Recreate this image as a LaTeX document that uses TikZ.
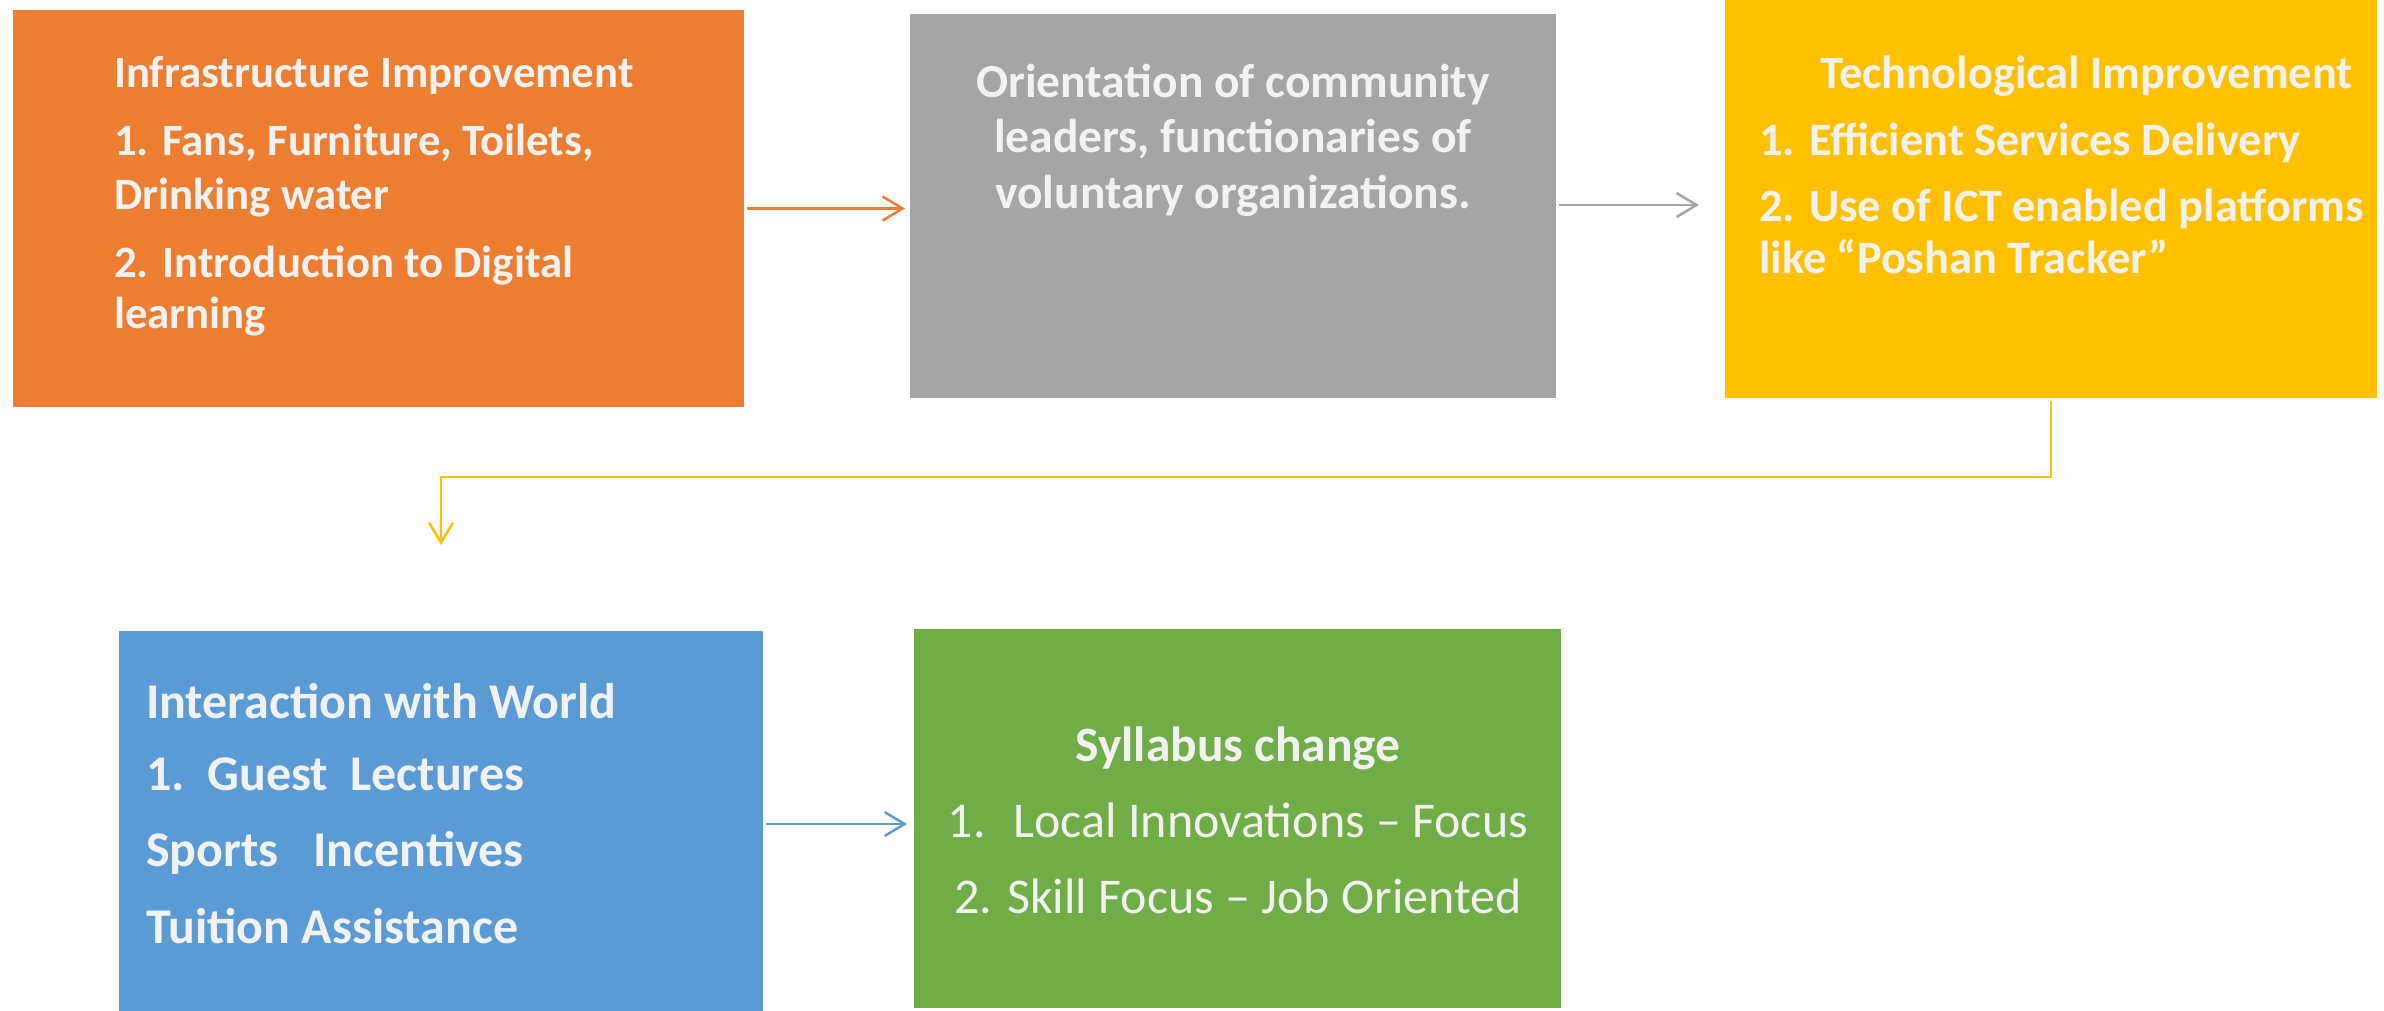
\documentclass[tikz,border=0pt]{standalone}
\usepackage{fontspec}
\setmainfont{Carlito}
\usetikzlibrary{arrows.meta}
\definecolor{corange}{HTML}{ED7D31}
\definecolor{cgray}{HTML}{A5A5A5}
\definecolor{cyellow}{HTML}{FFC000}
\definecolor{cblue}{HTML}{5B9BD5}
\definecolor{cgreen}{HTML}{70AD47}
\definecolor{textw}{HTML}{F2F2F2}
\begin{document}
\begin{tikzpicture}[x=1pt,y=-1pt,
  box/.style={fill=#1, draw=none, rectangle, inner sep=0pt, outer sep=0pt, anchor=north west},
  bt/.style={text=textw, inner sep=0pt, font=\fontsize{#1}{#1}\selectfont\bfseries},
  rt/.style={text=textw, inner sep=0pt, font=\fontsize{#1}{#1}\selectfont},
  conn/.style={line width=2.5pt, -{Straight Barb[length=20pt,width=24pt,line width=2.5pt]}}
]
\useasboundingbox (0,0) rectangle (2384,1011);
% boxes
\node[box=corange, minimum width=731pt, minimum height=397pt] (infra) at (13,10) {};
\node[box=cgray, minimum width=646pt, minimum height=384pt] (orient) at (910,14) {};
\node[box=cyellow, minimum width=652pt, minimum height=398pt] (tech) at (1725,0) {};
\node[box=cblue, minimum width=644pt, minimum height=380pt] (world) at (119,631) {};
\node[box=cgreen, minimum width=647pt, minimum height=379pt] (syl) at (914,629) {};

% orange texts
\node[bt=44.8, anchor=base west] (i0) at (114,88) {Infrastructure Improvement};
\node[bt=44.8, anchor=base west] (i1) at (114,156) {1. Fans, Furniture, Toilets,};
\node[bt=44.8, anchor=base west] (i2) at (114,210) {Drinking water};
\node[bt=44.8, anchor=base west] (i3) at (114,277) {2. Introduction to Digital};
\node[bt=44.8, anchor=base west] (i4) at (114,328) {learning};

% gray texts
\node[bt=47.5, anchor=base] (o0) at (1233,98) {Orientation of community};
\node[bt=47.5, anchor=base] (o1) at (1233,153) {leaders, functionaries of};
\node[bt=47.5, anchor=base] (o2) at (1233,208) {voluntary organizations.};

% yellow texts
\node[bt=46.4, anchor=base west] (t0) at (1820,89) {Technological Improvement};
\node[bt=46.4, anchor=base west] (t1) at (1759,156) {1. Efficient Services Delivery};
\node[bt=46.4, anchor=base west] (t2) at (1759,222) {2. Use of ICT enabled platforms};
\node[bt=46.4, anchor=base west] (t3) at (1759,273) {like “Poshan Tracker”};

% blue texts
\node[bt=50, anchor=base west] (w0) at (146,718) {Interaction with World};
\node[bt=50, anchor=base west] (w1) at (146,790) {1.\hspace{0.45em}Guest\hspace{0.45em}Lectures};
\node[bt=50, anchor=base west] (w2) at (146,866) {Sports\hspace{0.7em}Incentives};
\node[bt=50, anchor=base west] (w3) at (146,943) {Tuition Assistance};

% green texts
\node[bt=49.5, anchor=base] (s0) at (1238,761) {Syllabus change};
\node[rt=50, anchor=base] (s1) at (1238,837) {1.\hspace{0.55em}Local Innovations – Focus};
\node[rt=50, anchor=base] (s2) at (1238,913) {2. Skill Focus – Job Oriented};

% connectors
\coordinate (gtip) at (1699,205);
\coordinate (ycorner) at (2051,477);
\coordinate (ytip) at (441,545);
\draw[conn, corange, shorten <=3pt, shorten >=5pt] (infra.east) -- (infra.east -| orient.west);
\draw[conn, cgray, shorten <=3pt] (orient.east |- gtip) -- (gtip);
\draw[conn, cyellow, shorten <=3pt] (tech.south -| ycorner) -- (ycorner) -- (ycorner -| ytip) -- (ytip);
\draw[conn, cblue, shorten <=3pt, shorten >=7pt] ([yshift=-3pt]world.east) -- ([yshift=-3pt]world.east -| syl.west);
\end{tikzpicture}
\end{document}
